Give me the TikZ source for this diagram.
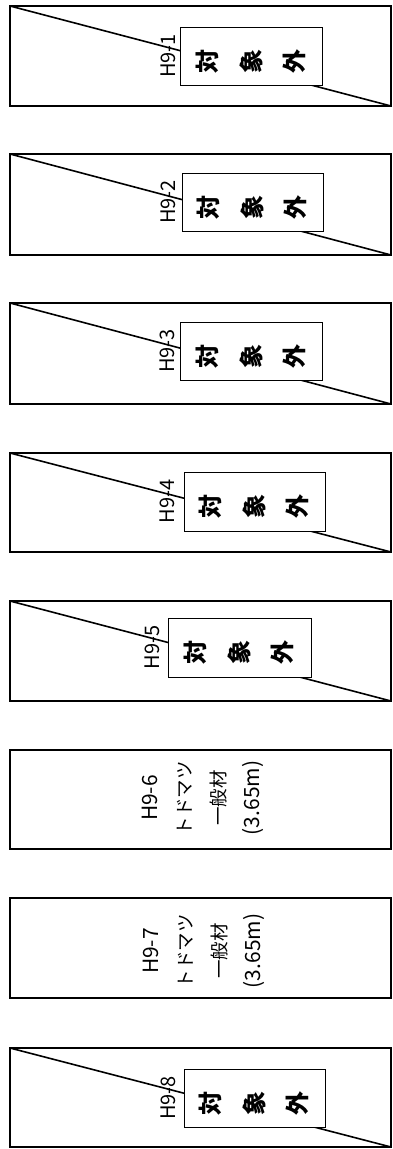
\documentclass[tikz,border=0pt]{standalone}
\usepackage{fontspec}
\setmainfont{Noto Sans CJK JP}
\newcommand\taigaipanel[9]{%
  \coordinate (tl#1) at (10,#2);
  \coordinate (br#1) at (391,#3);
  \draw[panel] (tl#1) rectangle (br#1);
  \node[lbl] (l#1) at (#8,{(#6+#7)/2}) {#9};
  \draw[diag] (tl#1) -- (br#1);
  \node[tag, minimum width={#5pt-#4pt}, minimum height={#7pt-#6pt}] (box#1) at ({(#4+#5)/2},{(#6+#7)/2}) {};
  \node[kanji] (k#1a) at ({(#4+#5)/2-44},{(#6+#7)/2+5}) {対};
  \node[kanji] (k#1b) at ({(#4+#5)/2},{(#6+#7)/2+5}) {象};
  \node[kanji] (k#1c) at ({(#4+#5)/2+43},{(#6+#7)/2+5}) {外};
}
\begin{document}
\begin{tikzpicture}[x=1pt,y=-1pt,
  panel/.style={draw, line width=1.8pt},
  diag/.style={line width=1.6pt},
  tag/.style={draw, line width=0.9pt, fill=white, inner sep=0pt},
  lbl/.style={rotate=90, font=\fontsize{20}{20}\selectfont, inner sep=0pt},
  kanji/.style={rotate=90, font=\fontsize{24}{24}\selectfont\bfseries, inner sep=0pt},
  info/.style={rotate=90, align=center, inner sep=0pt, font=\fontsize{21}{34}\selectfont}]
\useasboundingbox (0,0) rectangle (393,1149);

\taigaipanel{1}{6}{106}{180}{322}{27}{85}{168}{H9-1}
\taigaipanel{2}{154}{255}{182}{323}{173}{231}{168}{H9-2}
\taigaipanel{3}{303}{404}{180}{322}{322}{380}{167}{H9-3}
\taigaipanel{4}{453}{552}{184}{325}{472}{531}{167}{H9-4}
\taigaipanel{5}{601}{701}{168}{311}{618}{677}{152}{H9-5}

\coordinate (tl6) at (10,750);
\coordinate (br6) at (391,849);
\draw[panel] (tl6) rectangle (br6);
\node[info] (t6) at (203,798) {H9-6\\{\fontsize{18.5}{34}\selectfont トドマツ}\\{\fontsize{18.5}{34}\selectfont 一般材}\\(3.65m)};

\coordinate (tl7) at (10,898);
\coordinate (br7) at (391,998);
\draw[panel] (tl7) rectangle (br7);
\node[info] (t7) at (204,951) {H9-7\\{\fontsize{18.5}{34}\selectfont トドマツ}\\{\fontsize{18.5}{34}\selectfont 一般材}\\(3.65m)};

\taigaipanel{8}{1048}{1147}{184}{325}{1069}{1127}{168}{H9-8}
\end{tikzpicture}
\end{document}
